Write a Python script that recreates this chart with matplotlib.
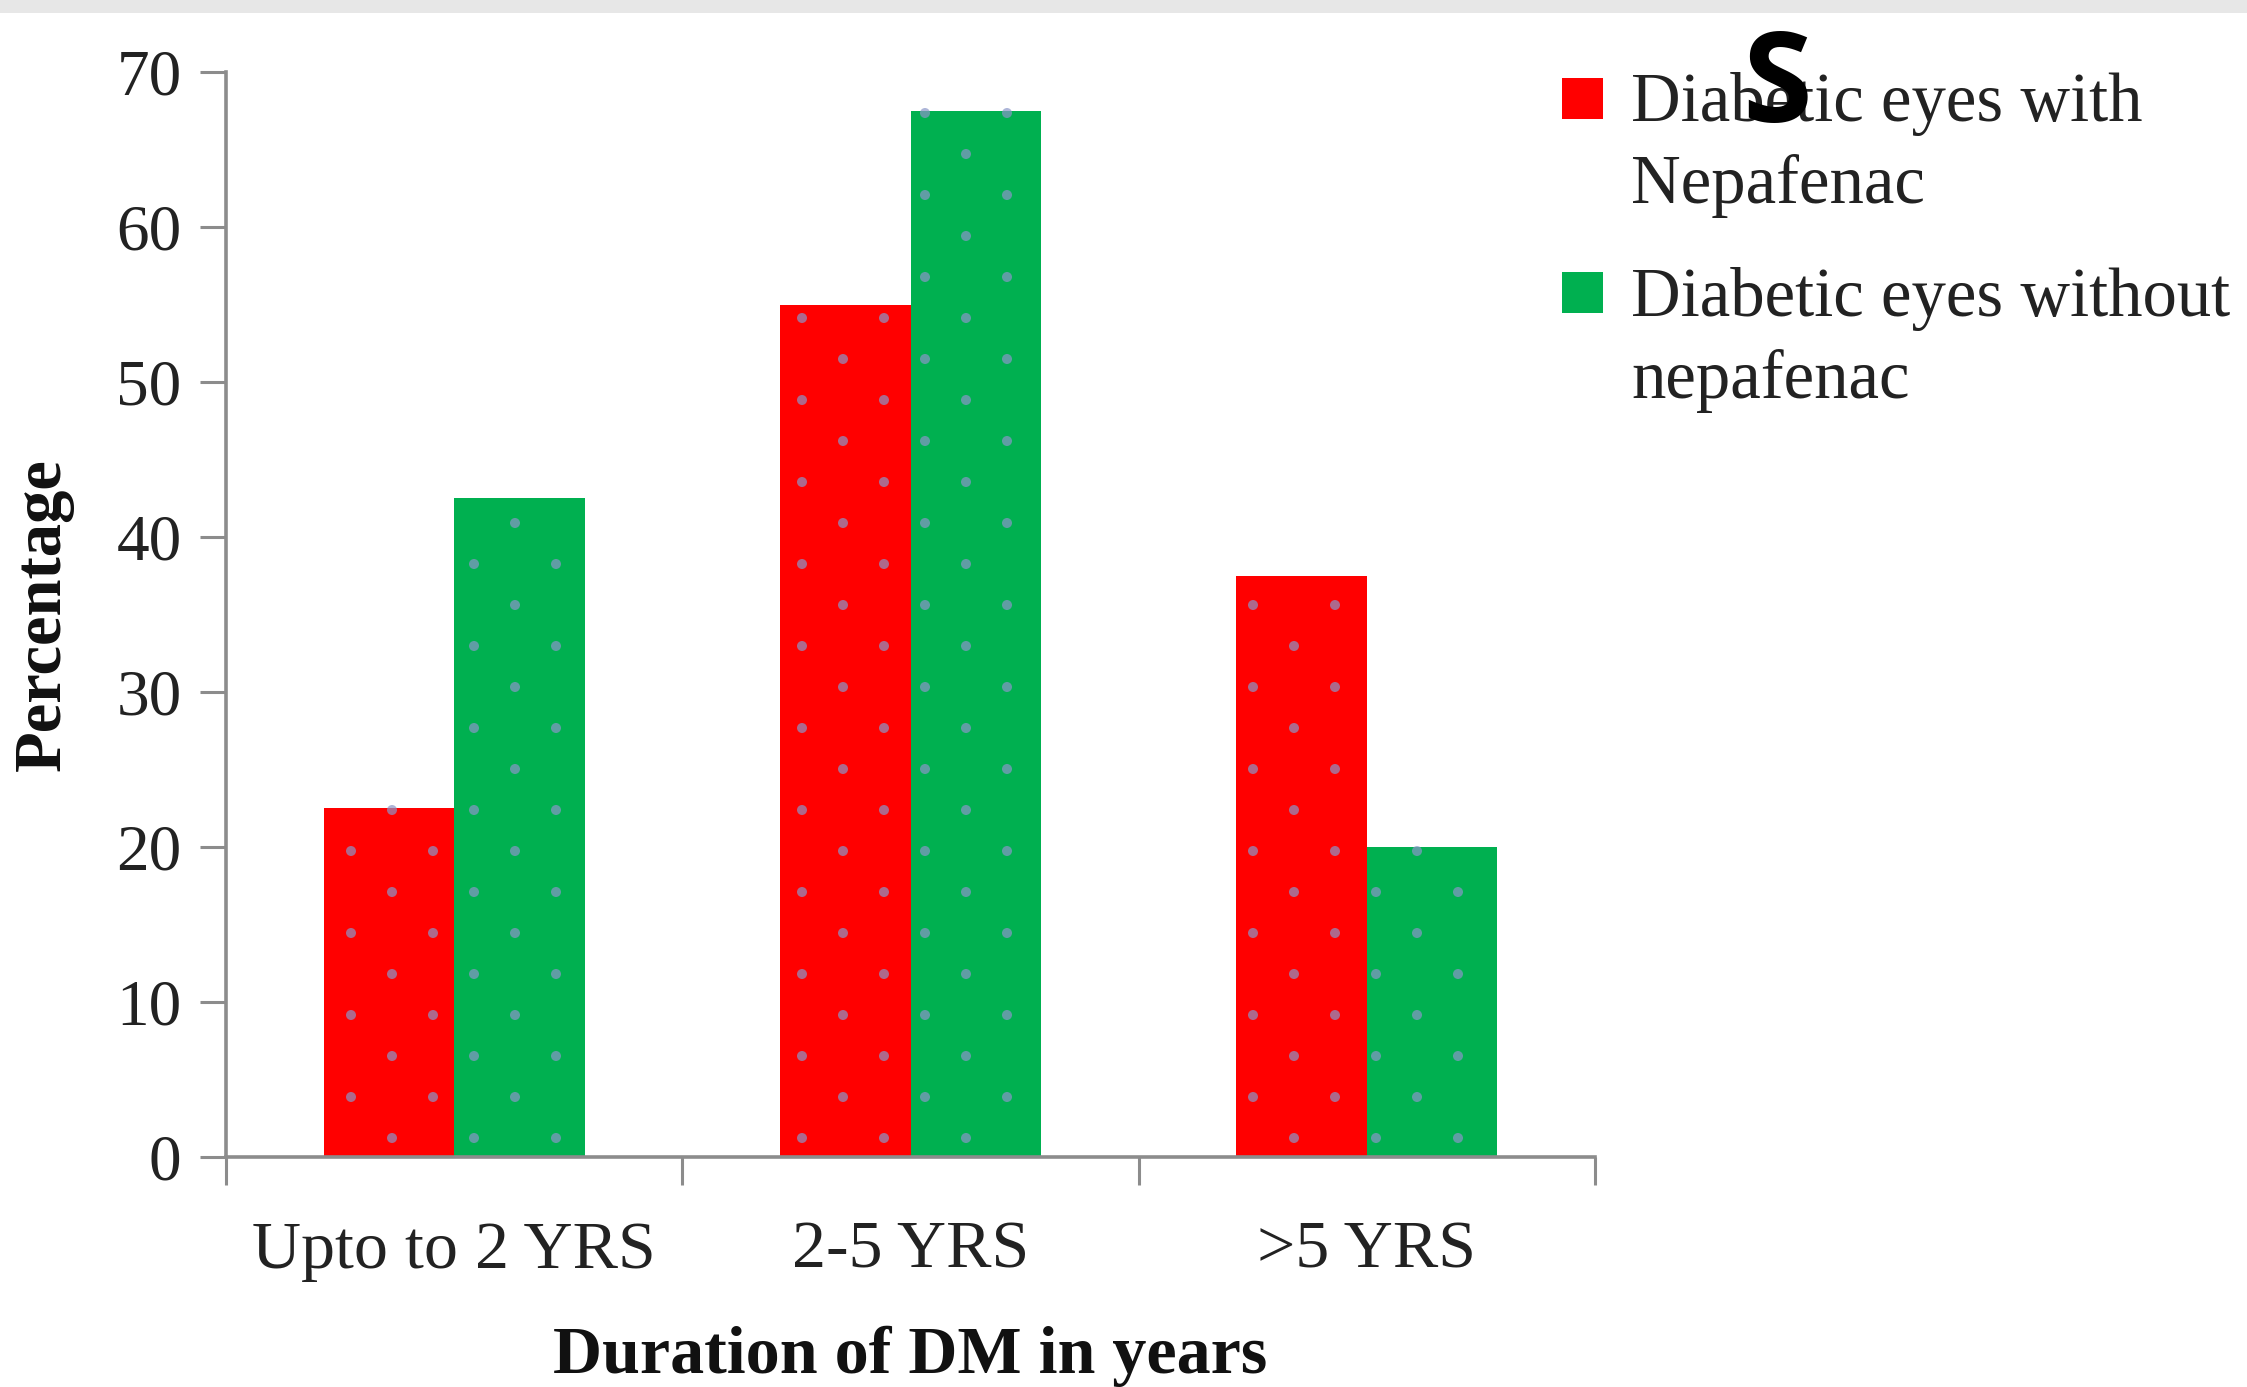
import matplotlib
matplotlib.use("Agg")
import matplotlib.pyplot as plt
from matplotlib.patches import Rectangle
import numpy as np

# ---- data -------------------------------------------------------------
categories = ["Upto to 2 YRS", "2-5 YRS", ">5 YRS"]
series_names = ["Diabetic eyes with\nNepafenac", "Diabetic eyes without\nnepafenac"]
with_nepafenac = [22.5, 55.0, 37.5]
without_nepafenac = [42.5, 67.5, 20.0]
y_ticks = [0, 10, 20, 30, 40, 50, 60, 70]

RED = "#FF0000"
GREEN = "#00B050"
AXIS_GRAY = "#8c8c8c"
SERIF = ["Liberation Serif", "DejaVu Serif"]

W, H = 2247, 1387
fig = plt.figure(figsize=(W / 100, H / 100), dpi=100)
fig.patch.set_facecolor("white")

# light strip along the top edge
fig.add_artist(Rectangle((0, 1 - 13 / H), 1, 13 / H, transform=fig.transFigure,
                         facecolor="#e7e7e7", edgecolor="none", zorder=0))

left, right, bottom, top = 226 / W, 1595 / W, 1 - 1157 / H, 1 - 72 / H
ax = fig.add_axes([left, bottom, right - left, top - bottom])

x = np.arange(len(categories))
bw = 0.286
bars_red = ax.bar(x - bw / 2, with_nepafenac, bw, color=RED, zorder=2)
bars_green = ax.bar(x + bw / 2, without_nepafenac, bw, color=GREEN, zorder=2)

ax.set_xlim(-0.5, len(categories) - 0.5)
ax.set_ylim(0, 70)

# spines
for s in ("top", "right"):
    ax.spines[s].set_visible(False)
for s in ("left", "bottom"):
    ax.spines[s].set_color(AXIS_GRAY)
    ax.spines[s].set_linewidth(2.6)

# y ticks
ax.set_yticks(y_ticks)
ax.set_yticklabels([str(v) for v in y_ticks], fontfamily=SERIF, fontsize=47)
ax.tick_params(axis="y", direction="out", length=19, width=2.2, color=AXIS_GRAY,
               pad=13, labelcolor="#222222")

# x: labels at group centres, tick marks on group boundaries
ax.set_xticks(x)
ax.set_xticklabels(categories, fontfamily=SERIF, fontsize=49)
ax.tick_params(axis="x", which="major", length=0, pad=46, labelcolor="#222222")
ax.set_xticks(np.arange(len(categories) + 1) - 0.5, minor=True)
ax.tick_params(axis="x", which="minor", direction="out", length=20, width=2.2,
               color=AXIS_GRAY)

ax.set_ylabel("Percentage", fontfamily=SERIF, fontsize=48, fontweight="bold",
              color="#111111")
ax.yaxis.label.set_va("center")
ax.yaxis.set_label_coords((43 - 226) / (1595 - 226), 0.5)

ax.set_xlabel("Duration of DM in years", fontfamily=SERIF, fontsize=49,
              fontweight="bold", color="#111111")
ax.xaxis.label.set_va("center")
ax.xaxis.set_label_coords(0.5, -(1356 - 1157) / (1157 - 72))

# dotted fill pattern: staggered grid in pixel space, clipped to each bar
fig.canvas.draw()
to_px = ax.transData
to_data = ax.transData.inverted()
x0_px, y0_px = to_px.transform((-0.5, 0.0))
x1_px, y1_px = to_px.transform((len(categories) - 0.5, 70.0))
step = 41.0          # row spacing and half the in-row period, in pixels
pts = []
row = 0
yy = y0_px + 19
while yy < y1_px:
    off = 0.0 if row % 2 == 0 else -step
    xx = x0_px + 166 + off
    while xx > x0_px:
        xx -= 2 * step
    while xx < x1_px:
        pts.append((xx, yy))
        xx += 2 * step
    yy += step
    row += 1
pts = to_data.transform(np.array(pts))

for bar_group in (bars_red, bars_green):
    for rect in bar_group:
        bx, by = rect.get_x(), rect.get_y()
        w, h = rect.get_width(), rect.get_height()
        inside = pts[(pts[:, 0] > bx) & (pts[:, 0] < bx + w) &
                     (pts[:, 1] > by) & (pts[:, 1] < by + h)]
        if len(inside):
            ax.scatter(inside[:, 0], inside[:, 1], s=52, color="#8a96c8",
                       alpha=0.7, edgecolors="none", zorder=3, clip_on=True)

# legend: square swatch beside the first line of each two-line label
sq = 41
entries = [(RED, series_names[0], 78, 203), (GREEN, series_names[1], 272, 398)]
for color, label, ytop, last_baseline in entries:
    fig.add_artist(Rectangle((1562 / W, 1 - (ytop + sq) / H), sq / W, sq / H,
                             transform=fig.transFigure, facecolor=color,
                             edgecolor="none"))
    fig.text(1631 / W, 1 - last_baseline / H, label, fontfamily=SERIF, fontsize=49.5,
             va="baseline", ha="left", color="#222222", linespacing=1.37)

# large "S" mark over the legend
fig.text(1777 / W, 1 - 122 / H, "S", fontfamily=["Open Sans", "DejaVu Sans"],
         fontweight="bold", fontsize=91, ha="center", va="baseline", color="black",
         zorder=10)

fig.savefig("out.png", dpi=100)
